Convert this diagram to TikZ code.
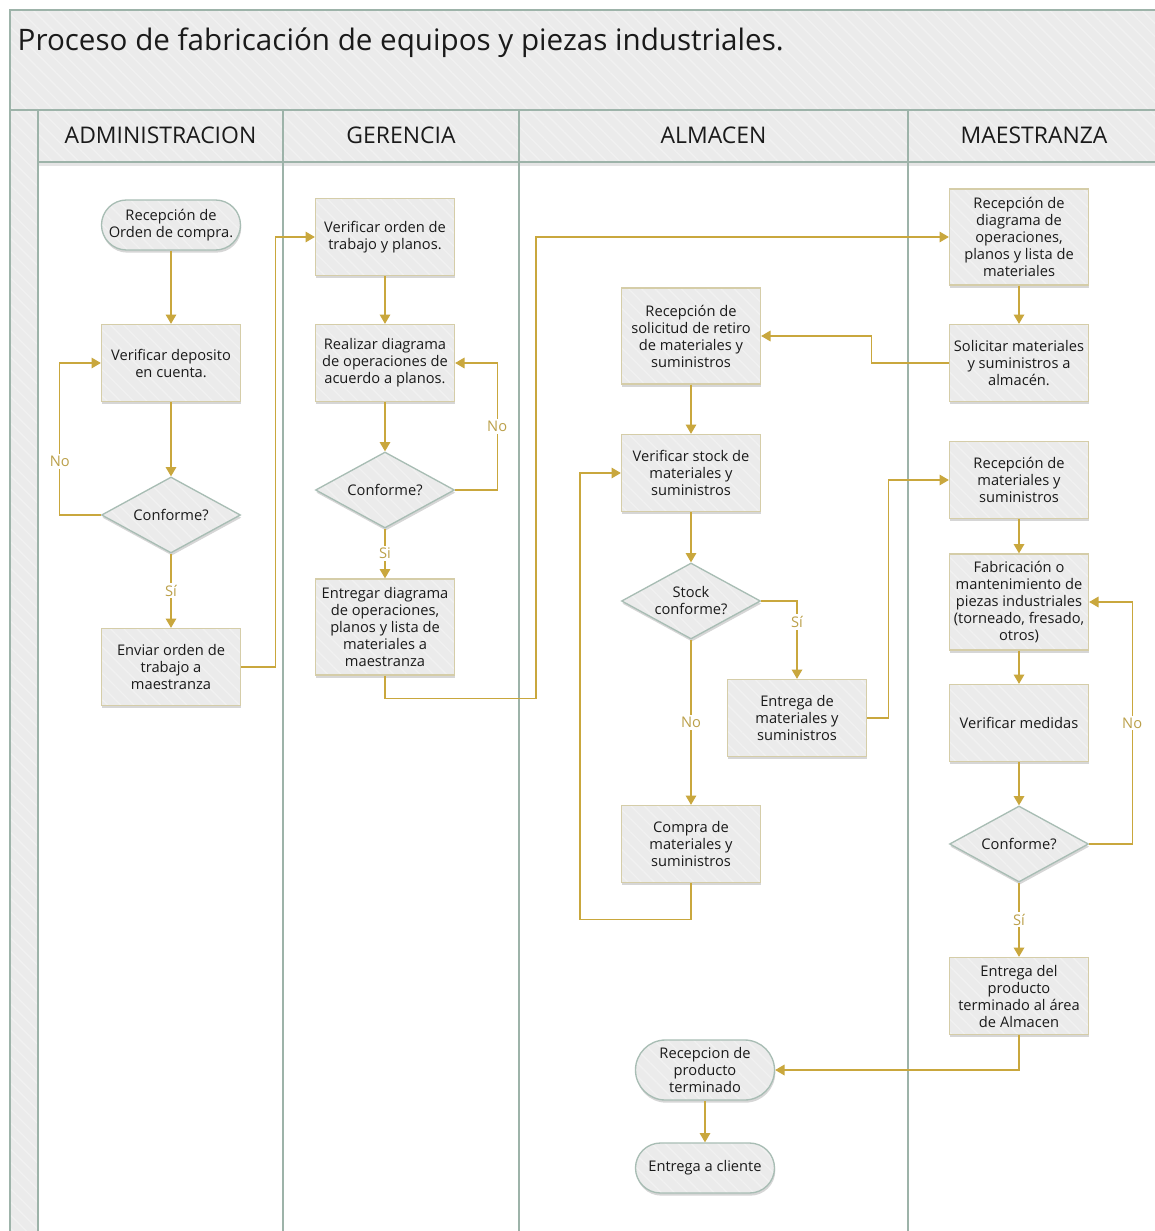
\documentclass[tikz,border=0pt]{standalone}
\usepackage{fontspec}
\setmainfont{Open Sans}
\usetikzlibrary{shapes.geometric,shadows,arrows.meta,patterns.meta,calc}
\definecolor{framec}{HTML}{9DB3A9}
\definecolor{bandfill}{HTML}{EBEBEB}
\definecolor{hatchc}{HTML}{F1F1F1}
\definecolor{boxline}{HTML}{D5CDA8}
\definecolor{termline}{HTML}{A8BDB4}
\definecolor{flow}{HTML}{C9A73D}
\definecolor{lblc}{HTML}{BBA04A}
\definecolor{txt}{HTML}{1A1A1A}
\tikzset{
  hatch/.style={pattern={Lines[angle=-45,distance=7pt,line width=1pt]},pattern color=hatchc},
  base/.style={fill=bandfill, text=txt,
    path picture={\fill[hatch] (path picture bounding box.south west) rectangle (path picture bounding box.north east);},
    font=\fontsize{11}{12.75}\selectfont, align=center,
    drop shadow={shadow xshift=0.6pt,shadow yshift=-2pt,opacity=0.16,fill=black}},
  procbox/.style={base, rectangle, draw=boxline, line width=1pt,
    minimum width=104.25pt, minimum height=57.75pt, inner sep=1pt},
  tallbox/.style={procbox, minimum height=72pt},
  termbox/.style={base, rectangle, rounded corners=18.75pt, draw=termline, line width=1pt,
    minimum width=104.25pt, minimum height=37.5pt, inner sep=1pt},
  termtall/.style={termbox, rounded corners=22.5pt, minimum height=45pt},
  decbox/.style={base, diamond, shape aspect=2, draw=termline, line width=1pt,
    minimum width=104.25pt, minimum height=57pt, inner sep=0pt},
  flowline/.style={draw=flow, line width=0.9pt, -{Triangle[width=8pt,length=7pt]}},
  lbl/.style={fill=white, text=lblc, font=\fontsize{11}{13}\selectfont, inner sep=1.5pt},
  frame/.style={draw=framec, line width=1.3pt},
  lanehead/.style={text=txt, font=\fontsize{17.2}{20}\selectfont}
}
\begin{document}
\begin{tikzpicture}[x=0.75pt,y=-0.75pt]
\useasboundingbox (0,0) rectangle (1155,1231);
\fill[white] (0,0) rectangle (1155,1231);
% bands
\fill[bandfill] (10,10) rectangle (1155,162);
\fill[hatch] (10,10) rectangle (1155,162);
\fill[bandfill] (10,162) rectangle (38,1231);
\fill[hatch] (10,162) rectangle (38,1231);
% frame lines
\draw[frame] (10,1231) -- (10,10) -- (1155,10);
\draw[frame] (10,110) -- (1155,110);
\draw[draw=black!10, line width=2pt] (38,164.5) -- (1155,164.5);
\draw[frame] (38,162) -- (1155,162);
\foreach \x in {38,283,519,908} \draw[frame] (\x,110) -- (\x,1231);
% title and lane headers
\node[anchor=west, text=txt, font=\fontsize{22.2}{26}\selectfont] (title) at (13,43) {Proceso de fabricación de equipos y piezas industriales.};
\node[lanehead] (h1) at (160.5,135) {ADMINISTRACION};
\node[lanehead] (h2) at (401,135) {GERENCIA};
\node[lanehead] (h3) at (713.5,135) {ALMACEN};
\node[lanehead] (h4) at (1034,135) {MAESTRANZA};
% ADMINISTRACION
\node[termbox] (s1) at (171,225) {Recepción de\\Orden de compra.};
\node[procbox] (a2) at (171,363) {Verificar deposito\\en cuenta.};
\node[decbox] (d1) at (171,515) {Conforme?};
\node[procbox] (a4) at (171,667) {Enviar orden de\\trabajo a\\maestranza};
% GERENCIA
\node[procbox] (g1) at (385,237) {Verificar orden de\\trabajo y planos.};
\node[procbox] (g2) at (385,363) {Realizar diagrama\\de operaciones de\\acuerdo a planos.};
\node[decbox] (gd) at (385,490) {Conforme?};
\node[tallbox] (g4) at (385,627) {Entregar diagrama\\de operaciones,\\planos y lista de\\materiales a\\maestranza};
% ALMACEN
\node[tallbox] (r1) at (691,336) {Recepción de\\solicitud de retiro\\de materiales y\\suministros};
\node[procbox] (r2) at (691,473) {Verificar stock de\\materiales y\\suministros};
\node[decbox] (sd) at (691,601) {Stock\\conforme?};
\node[procbox] (e1) at (797,718) {Entrega de\\materiales y\\suministros};
\node[procbox] (c1) at (691,844) {Compra de\\materiales y\\suministros};
\node[termtall] (p1) at (705,1070) {Recepcion de\\producto\\terminado};
\node[termbox] (p2) at (705,1168) {Entrega a cliente};
% MAESTRANZA
\node[tallbox] (m1) at (1019,237) {Recepción de\\diagrama de\\operaciones,\\planos y lista de\\materiales};
\node[procbox] (m2) at (1019,363) {Solicitar materiales\\y suministros a\\almacén.};
\node[procbox] (m3) at (1019,480) {Recepción de\\materiales y\\suministros};
\node[tallbox] (m4) at (1019,602) {Fabricación o\\mantenimiento de\\piezas industriales\\(torneado, fresado,\\otros)};
\node[procbox] (m5) at (1019,723) {Verificar medidas};
\node[decbox] (md) at (1019,844) {Conforme?};
\node[procbox] (m6) at (1019,996) {Entrega del\\producto\\terminado al área\\de Almacen};
% connectors
\draw[flowline] (s1) -- (a2);
\draw[flowline] (a2) -- (d1);
\draw[flowline] (d1) -- node[lbl]{Sí} (a4);
\draw[flowline] (d1.west) -- ++(-41,0) |- node[lbl,pos=0.175]{No} (a2.west);
\draw[flowline] (a4.east) -- ++(34,0) |- (g1.west);
\draw[flowline] (g1) -- (g2);
\draw[flowline] (g2) -- (gd);
\draw[flowline] (gd) -- node[lbl]{Si} (g4);
\draw[flowline] (gd.east) -- ++(42,0) |- node[lbl,pos=0.25]{No} (g2.east);
\draw[flowline] (g4.south) -- ++(0,23) -- ++(151,0) |- (m1.west);
\draw[flowline] (m1) -- (m2);
\draw[flowline] (m2.west) -- ++(-77,0) |- (r1.east);
\draw[flowline] (r1) -- (r2);
\draw[flowline] (r2) -- (sd);
\draw[flowline] (sd.east) -| node[lbl,pos=0.635]{Sí} (e1.north);
\draw[flowline] (sd) -- node[lbl]{No} (c1);
\draw[flowline] (c1.south) -- ++(0,36) -- ++(-111,0) |- (r2.west);
\draw[flowline] (e1.east) -- ++(21,0) |- (m3.west);
\draw[flowline] (m3) -- (m4);
\draw[flowline] (m4) -- (m5);
\draw[flowline] (m5) -- (md);
\draw[flowline] (md.east) -- ++(43,0) |- node[lbl,pos=0.25]{No} (m4.east);
\draw[flowline] (md) -- node[lbl]{Sí} (m6);
\draw[flowline] (m6.south) |- (p1.east);
\draw[flowline] (p1) -- (p2);
\end{tikzpicture}
\end{document}
